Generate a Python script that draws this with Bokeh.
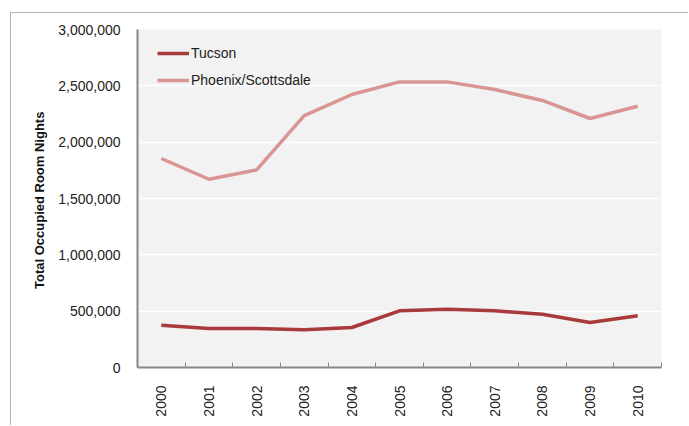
import math
from bokeh.plotting import figure
from bokeh.models import FixedTicker, NumeralTickFormatter, Legend, LegendItem, Range1d
from bokeh.embed import file_html
from bokeh.resources import INLINE

# Annual occupied room nights by market
years = [2000, 2001, 2002, 2003, 2004, 2005, 2006, 2007, 2008, 2009, 2010]
tucson = [375000, 346000, 346000, 335000, 355000, 503000, 518000, 503000, 473000, 400000, 459000]
phoenix = [1855000, 1671000, 1754000, 2235000, 2423000, 2535000, 2535000, 2467000, 2370000, 2210000, 2319000]
y_ticks = [0, 500000, 1000000, 1500000, 2000000, 2500000, 3000000]

FONT = "Liberation Sans"
AXIS_GRAY = "#868686"

p = figure(
    width=678, height=413,
    x_range=Range1d(years[0] - 0.5, years[-1] + 0.5),
    y_range=Range1d(0, 3000000),
    output_backend="svg", toolbar_location=None,
    min_border_left=126, min_border_right=28, min_border_top=16, min_border_bottom=59,
)
p.styles = {"margin-left": "10px", "margin-top": "12px",
            "border-left": "1px solid #B4B4B4", "border-top": "1px solid #B4B4B4"}

p.background_fill_color = "#F2F2F2"
p.border_fill_color = "white"
p.outline_line_color = None

# x axis: year labels at centres, small ticks between years
p.xaxis.ticker = FixedTicker(ticks=years, minor_ticks=[y + 0.5 for y in years])
p.xaxis.major_label_orientation = math.pi / 2
p.xaxis.major_tick_line_color = None
p.xaxis.minor_tick_in = 5
p.xaxis.minor_tick_out = 0
p.xaxis.minor_tick_line_color = AXIS_GRAY
p.xaxis.minor_tick_line_width = 1
p.xaxis.axis_line_color = AXIS_GRAY
p.xaxis.axis_line_width = 2
p.xaxis.major_label_standoff = 12
p.xaxis.major_label_text_font = FONT
p.xaxis.major_label_text_font_size = "14px"
p.xaxis.major_label_text_color = "#222222"

# y axis
p.yaxis.ticker = FixedTicker(ticks=y_ticks)
p.yaxis.formatter = NumeralTickFormatter(format="0,0")
p.yaxis.major_tick_line_color = None
p.yaxis.minor_tick_line_color = None
p.yaxis.axis_line_color = AXIS_GRAY
p.yaxis.axis_line_width = 2
p.yaxis.major_label_standoff = 11
p.yaxis.major_label_text_font = FONT
p.yaxis.major_label_text_font_size = "14px"
p.yaxis.major_label_text_color = "#222222"
p.yaxis.axis_label = "Total Occupied  Room Nights"
p.yaxis.axis_label_text_font = FONT
p.yaxis.axis_label_text_font_style = "bold"
p.yaxis.axis_label_text_font_size = "13px"
p.yaxis.axis_label_text_color = "#111111"
p.yaxis.axis_label_standoff = 8

p.xgrid.grid_line_color = None
p.ygrid.grid_line_color = "white"
p.ygrid.grid_line_width = 1.5

r_tuc = p.line(years, tucson, line_color="#A83A3C", line_width=3.5)
r_phx = p.line(years, phoenix, line_color="#D89594", line_width=3.5)

legend = Legend(
    items=[LegendItem(label="Tucson", renderers=[r_tuc]),
           LegendItem(label="Phoenix/Scottsdale", renderers=[r_phx])],
    location=(20, 279), margin=0, padding=8, spacing=11,
    glyph_width=32, glyph_height=10, label_height=10, label_standoff=2,
    background_fill_alpha=0, border_line_color=None,
    label_text_font=FONT, label_text_font_size="14px", label_text_color="#222222",
)
p.add_layout(legend)

open("out.html", "w").write(file_html(p, INLINE))
